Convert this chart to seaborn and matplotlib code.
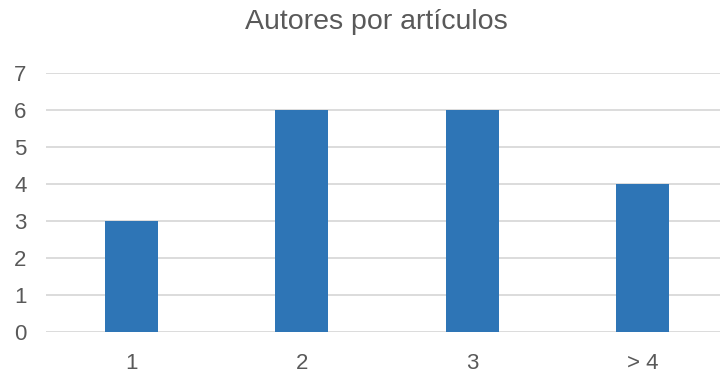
import matplotlib
matplotlib.use("Agg")
import matplotlib.pyplot as plt
import seaborn as sns
import pandas as pd

categorias = ["1", "2", "3", "> 4"]
valores = [3, 6, 6, 4]

sns.set_theme(style="white")
plt.rcParams['font.family'] = ['Liberation Sans', 'DejaVu Sans']

df = pd.DataFrame({"autores": categorias, "articulos": valores})

fig = plt.figure(figsize=(7.2, 3.74), dpi=100)
ax = fig.add_axes([46 / 720, 42 / 374, 682 / 720, 259 / 374])

sns.barplot(data=df, x="autores", y="articulos", color="#2E75B6",
            saturation=1, width=0.31, linewidth=0, ax=ax, zorder=3)

ax.set_ylim(0, 7)
ax.set_yticks(range(0, 8))
ax.yaxis.grid(True, color="#D9D9D9", linewidth=1.3, zorder=0)
ax.set_axisbelow(True)
for s in ax.spines.values():
    s.set_visible(False)
ax.set_xlabel("")
ax.set_ylabel("")
ax.tick_params(axis="both", length=0, labelsize=16, colors="#595959")
ax.tick_params(axis="y", pad=14)
ax.tick_params(axis="x", pad=15)

fig.text(376 / 720, 1 - 22 / 374, "Autores por artículos", ha="center",
         va="center", fontsize=20.5, color="#595959")

fig.savefig("out.png", dpi=100)
